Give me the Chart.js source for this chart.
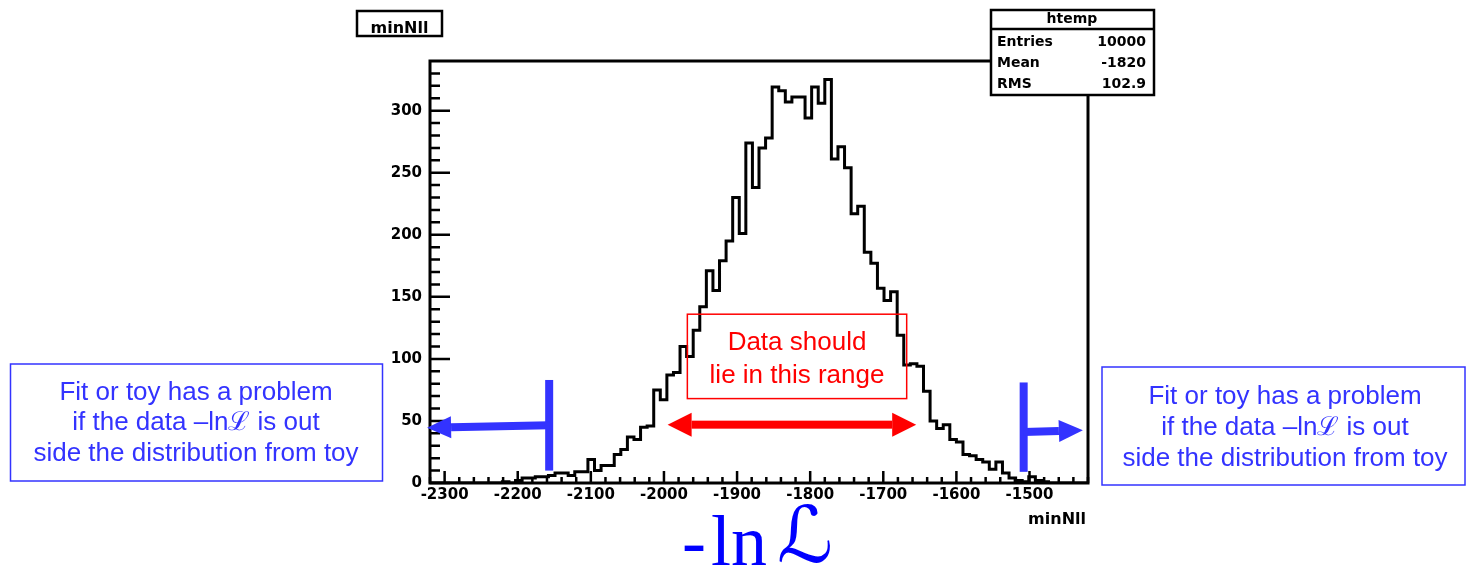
<!DOCTYPE html>
<html>
<head>
<meta charset="utf-8">
<script src="https://cdn.jsdelivr.net/npm/chart.js@4.4.1/dist/chart.umd.min.js"></script>
<style>
  html, body { margin: 0; padding: 0; background: #fff; }
  canvas { display: block; }
</style>
</head>
<body>
<canvas id="myChart" width="1467" height="568"></canvas>
<script>
// htemp: minNll of 10000 toy fits, 100 bins
const xMin = -2320;
const xMax = -1420;
const binWidth = 9;
const binCounts = [
  0, 0, 0, 0, 0, 0, 0, 0, 0, 0,
  0, 1, 0, 2, 4, 4, 5, 5, 6, 8,
  8, 6, 9, 9, 19, 10, 14, 14, 23, 27,
  37, 35, 45, 46, 75, 67, 87, 89, 110, 102,
  123, 142, 171, 155, 179, 195, 230, 201, 274, 238,
  270, 278, 319, 316, 307, 311, 311, 294, 319, 306,
  325, 261, 271, 254, 217, 223, 186, 177, 157, 147,
  154, 119, 95, 96, 94, 74, 50, 44, 47, 35,
  33, 23, 22, 19, 17, 11, 17, 8, 4, 2,
  1, 5, 2, 1, 0, 0, 0, 0, 0, 0,
];
const xTickValues = [-2300, -2200, -2100, -2000, -1900, -1800, -1700, -1600, -1500];
const yTickValues = [0, 50, 100, 150, 200, 250, 300];
const yMax = 340;
const xMajorStep = 100, xMinorStep = 20;
const yMajorStep = 50, yMinorStep = 10;

const statLabels = ["Entries", "Mean", "RMS"];
const statValues = ["10000", "-1820", "102.9"];
const histName = "htemp";
const varName = "minNll";

const rangeLines = ["Data should", "lie in this range"];
const problemLines = ["Fit or toy has a problem", "if the data \u2013ln\u2112 is out", "side the distribution from toy"];

// annotation positions in data units (x = minNll, y = entries)
const rangeBox = { x0: -1968, x1: -1668, y0: 68, y1: 136 };
const rangeArrow = { x0: -1995, x1: -1655, y: 47 };
const lowCut = { x: -2157, y0: 10, y1: 83, tipX: -2324, yBar: 46.5, yTip: 44.5 };
const highCut = { x: -1508, y0: 9, y1: 81, tipX: -1427, yBar: 41, yTip: 42.5 };

const points = binCounts.map((c, i) => ({ x: xMin + i * binWidth, y: c }));
points.push({ x: xMax, y: binCounts[binCounts.length - 1] });

const BLUE = "#3333ff";
const RED = "#ff0000";
const boldFont = "'DejaVu Sans', sans-serif";

function arrowHead(ctx, tipX, tipY, dirX, dirY, len, half) {
  const n = Math.hypot(dirX, dirY);
  const ux = dirX / n, uy = dirY / n;
  const bx = tipX - ux * len, by = tipY - uy * len;
  ctx.beginPath();
  ctx.moveTo(tipX, tipY);
  ctx.lineTo(bx - uy * half, by + ux * half);
  ctx.lineTo(bx + uy * half, by - ux * half);
  ctx.closePath();
  ctx.fill();
  return [bx, by];
}

function textBox(ctx, lines, cx, baselines, rect, color) {
  ctx.strokeStyle = color;
  ctx.lineWidth = 1.5;
  ctx.strokeRect(rect[0], rect[1], rect[2], rect[3]);
  ctx.fillStyle = color;
  ctx.font = "26px 'Liberation Sans', Arial, sans-serif";
  ctx.textAlign = "center";
  ctx.textBaseline = "alphabetic";
  lines.forEach((t, i) => ctx.fillText(t, cx, baselines[i]));
}

const rootFrame = {
  id: "rootFrame",
  afterDatasetsDraw(chart) {
    const { ctx, chartArea: a, scales: { x, y } } = chart;
    ctx.save();
    // frame
    ctx.strokeStyle = "#000";
    ctx.lineWidth = 3;
    ctx.strokeRect(a.left, a.top, a.right - a.left, a.bottom - a.top);
    // inward ticks
    ctx.lineWidth = 2.5;
    ctx.beginPath();
    for (let v = 0; v < yMax; v += yMinorStep) {
      const py = y.getPixelForValue(v);
      const len = v % yMajorStep === 0 ? 20 : 10;
      ctx.moveTo(a.left, py);
      ctx.lineTo(a.left + len, py);
    }
    for (let v = xMin; v <= xMax; v += xMinorStep) {
      const px = x.getPixelForValue(v);
      const len = v % xMajorStep === 0 ? 12 : 6;
      ctx.moveTo(px, a.bottom);
      ctx.lineTo(px, a.bottom - len);
    }
    ctx.stroke();

    // red range box + double arrow
    const bx0 = x.getPixelForValue(rangeBox.x0), bx1 = x.getPixelForValue(rangeBox.x1);
    const by0 = y.getPixelForValue(rangeBox.y1), by1 = y.getPixelForValue(rangeBox.y0);
    textBox(ctx, rangeLines, (bx0 + bx1) / 2, [by0 + 36, by0 + 69], [bx0, by0, bx1 - bx0, by1 - by0], RED);
    ctx.fillStyle = RED;
    const ay = y.getPixelForValue(rangeArrow.y);
    const ax0 = x.getPixelForValue(rangeArrow.x0), ax1 = x.getPixelForValue(rangeArrow.x1);
    const l = arrowHead(ctx, ax0, ay, -1, 0, 24, 12);
    const r = arrowHead(ctx, ax1, ay, 1, 0, 24, 12);
    ctx.fillRect(l[0], ay - 4, r[0] - l[0], 8);

    // blue cut markers
    ctx.fillStyle = BLUE;
    ctx.strokeStyle = BLUE;
    [lowCut, highCut].forEach(c => {
      const cx = x.getPixelForValue(c.x);
      const top = y.getPixelForValue(c.y1), bot = y.getPixelForValue(c.y0);
      ctx.fillRect(cx - 4, top, 8, bot - top);
      const tx = x.getPixelForValue(c.tipX);
      const yb = y.getPixelForValue(c.yBar), yt = y.getPixelForValue(c.yTip);
      const base = arrowHead(ctx, tx, yt, tx - cx, yt - yb, 24, 11);
      ctx.lineWidth = 8;
      ctx.lineCap = "butt";
      ctx.beginPath();
      ctx.moveTo(cx, yb);
      ctx.lineTo(base[0], base[1]);
      ctx.stroke();
    });
    ctx.restore();
  },
  afterDraw(chart) {
    const { ctx, chartArea: a } = chart;
    ctx.save();
    // stats box
    ctx.fillStyle = "#fff";
    ctx.fillRect(991, 10, 163, 85);
    ctx.strokeStyle = "#000";
    ctx.lineWidth = 2.5;
    ctx.strokeRect(991, 10, 163, 85);
    ctx.beginPath();
    ctx.moveTo(991, 29);
    ctx.lineTo(1154, 29);
    ctx.stroke();
    ctx.fillStyle = "#000";
    ctx.font = "bold 14px " + boldFont;
    ctx.textBaseline = "middle";
    ctx.textAlign = "center";
    ctx.fillText(histName, 1072, 19);
    statLabels.forEach((s, i) => {
      const yy = 42 + i * 21;
      ctx.textAlign = "left";
      ctx.fillText(s, 997, yy);
      ctx.textAlign = "right";
      ctx.fillText(statValues[i], 1146, yy);
    });

    // title box
    ctx.fillStyle = "#fff";
    ctx.fillRect(357, 11, 85, 25);
    ctx.save();
    ctx.beginPath();
    ctx.rect(357, 11, 85, 25);
    ctx.clip();
    ctx.fillStyle = "#000";
    ctx.font = "bold 16px " + boldFont;
    ctx.textAlign = "center";
    ctx.textBaseline = "alphabetic";
    ctx.fillText(varName, 399.5, 33);
    ctx.restore();
    ctx.strokeRect(357, 11, 85, 25);

    // axis title
    ctx.fillStyle = "#000";
    ctx.font = "bold 16px " + boldFont;
    ctx.textAlign = "right";
    ctx.textBaseline = "alphabetic";
    ctx.fillText(varName, a.right - 2, 524);

    // side boxes
    textBox(ctx, problemLines, 196, [400, 430, 461], [10.5, 364, 372, 117], BLUE);
    textBox(ctx, problemLines, 1285, [404, 435, 466], [1102, 367, 363, 118], BLUE);

    // -ln L
    ctx.fillStyle = "#0000ff";
    ctx.textAlign = "left";
    ctx.font = "72px 'Liberation Serif', 'Times New Roman', serif";
    ctx.fillText("-", 682, 565);
    ctx.fillText("ln", 711, 565);
    ctx.font = "78px 'DejaVu Serif', 'DejaVu Sans', serif";
    ctx.fillText("\u2112", 777, 562);
    ctx.restore();
  },
};

const ctx = document.getElementById("myChart").getContext("2d");
new Chart(ctx, {
  type: "line",
  data: {
    datasets: [{
      label: histName,
      data: points,
      stepped: true,
      borderColor: "#000",
      borderWidth: 3,
      pointRadius: 0,
      fill: false,
    }],
  },
  options: {
    responsive: false,
    animation: false,
    devicePixelRatio: 1,
    layout: { padding: { left: 380, right: 379, top: 61, bottom: 55 } },
    plugins: { legend: { display: false }, tooltip: { enabled: false } },
    scales: {
      x: {
        type: "linear",
        min: xMin,
        max: xMax,
        afterFit: s => { s.height = 30; },
        afterBuildTicks: s => { s.ticks = xTickValues.map(v => ({ value: v })); },
        grid: { display: false, drawTicks: false },
        border: { display: false },
        ticks: {
          autoSkip: false,
          maxRotation: 0,
          padding: 3,
          color: "#000",
          font: { family: boldFont, weight: "bold", size: 15 },
          callback: v => String(v),
        },
      },
      y: {
        min: 0,
        max: yMax,
        afterFit: s => { s.width = 50; },
        afterBuildTicks: s => { s.ticks = yTickValues.map(v => ({ value: v })); },
        grid: { display: false, drawTicks: false },
        border: { display: false },
        ticks: {
          padding: 8,
          color: "#000",
          font: { family: boldFont, weight: "bold", size: 15 },
          callback: v => String(v),
        },
      },
    },
  },
  plugins: [rootFrame],
});
</script>
</body>
</html>
